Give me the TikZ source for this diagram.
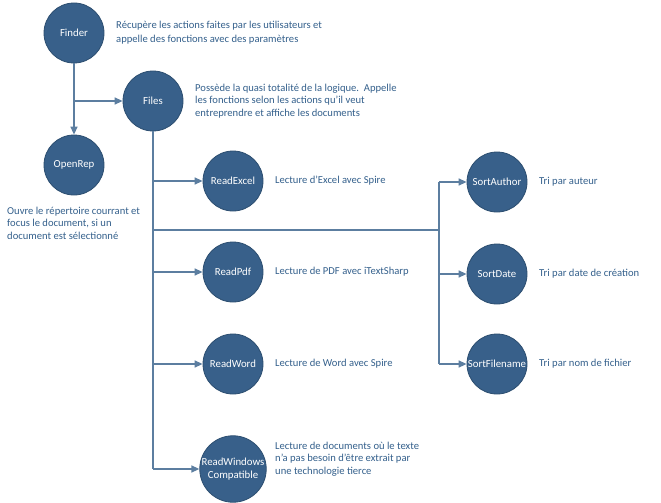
\documentclass[tikz,border=0pt]{standalone}
\usepackage{fontspec}
\setmainfont{Carlito}
\usetikzlibrary{arrows.meta}
\definecolor{bubble}{RGB}{56,96,138}
\definecolor{bubbleedge}{RGB}{44,78,112}
\definecolor{wire}{RGB}{92,126,160}
\definecolor{note}{RGB}{52,96,140}
\tikzset{
	bubble/.style={circle, fill=bubble, draw=bubbleedge, line width=0.8pt, minimum size=60pt, inner sep=0pt, text=white, align=center, font=\fontsize{10.8}{13}\selectfont},
	wire/.style={line width=1.4pt, color=wire},
	feed/.style={wire, -{Triangle[length=8pt,width=7pt]}},
	note/.style={anchor=west, inner sep=0pt, text=note, align=left, font=\fontsize{10.6}{12.5}\selectfont},
}

\begin{document}
\begin{tikzpicture}[x=1pt, y=-1pt]
		%%%%% START %%%%%
		
		\fill[white] (0, 0) rectangle (661, 503);
		\useasboundingbox (0, 0) rectangle (661, 503);
		
		\node[bubble] (finder) at (74, 33) {Finder};
		\node[bubble] (files) at (153, 101) {Files};
		\node[bubble] (openrep) at (74, 165) {OpenRep};
		
		\node[bubble] (readexcel) at (233, 181) {ReadExcel};
		\node[bubble] (readpdf) at (233, 272) {ReadPdf};
		\node[bubble] (readword) at (233, 364) {ReadWord};
		\node[bubble, minimum size=66pt] (readwin) at (233, 469) {ReadWindows\\Compatible};
		
		\node[bubble] (sortauthor) at (497, 182) {SortAuthor};
		\node[bubble] (sortdate) at (497, 274) {SortDate};
		\node[bubble] (sortfile) at (497, 364) {SortFilename};
		
		\coordinate (split) at (153, 230);
		\coordinate (sortbus) at (439, 230);
		
		\node[note, font=\fontsize{10.6}{14}\selectfont] (finder-note) at (116, 33) {Récupère les actions faites par les utilisateurs et\\appelle des fonctions avec des paramètres};
		\node[note] (files-note) at (195, 101) {Possède la quasi totalité de la logique.\ \ Appelle\\les fonctions selon les actions qu’il veut\\entreprendre et affiche les documents};
		\node[note] (openrep-note) at (7, 223) {Ouvre le répertoire courrant et\\focus le document, si un\\document est sélectionné};
		\node[note] (readexcel-note) at (275, 181) {Lecture d’Excel avec Spire};
		\node[note] (readpdf-note) at (275, 272) {Lecture de PDF avec iTextSharp};
		\node[note] (readword-note) at (275, 364) {Lecture de Word avec Spire};
		\node[note] (readwin-note) at (275, 459) {Lecture de documents où le texte\\n’a pas besoin d’être extrait par\\une technologie tierce};
		\node[note] (sortauthor-note) at (539, 182) {Tri par auteur};
		\node[note] (sortdate-note) at (539, 274) {Tri par date de création};
		\node[note] (sortfile-note) at (539, 364) {Tri par nom de fichier};
		
		% Finder -> OpenRep, Files
		\draw[feed] (finder) -- (openrep);
		\draw[feed] (finder |- files) -- (files);
		
		% Files -> readers
		\draw[wire] (files) -- (files |- readwin);
		\draw[feed] (files |- readexcel) -- (readexcel);
		\draw[feed] (files |- readpdf) -- (readpdf);
		\draw[feed] (files |- readword) -- (readword);
		\draw[feed] (files |- readwin) -- (readwin);
		
		% Files -> sorters
		\draw[wire] (split) -- (sortbus);
		\draw[wire] (sortbus |- sortauthor) -- (sortbus |- sortfile);
		\draw[feed] (sortbus |- sortauthor) -- (sortauthor);
		\draw[feed] (sortbus |- sortdate) -- (sortdate);
		\draw[feed] (sortbus |- sortfile) -- (sortfile);
		
		%%%%% END %%%%%
\end{tikzpicture}
\end{document}
